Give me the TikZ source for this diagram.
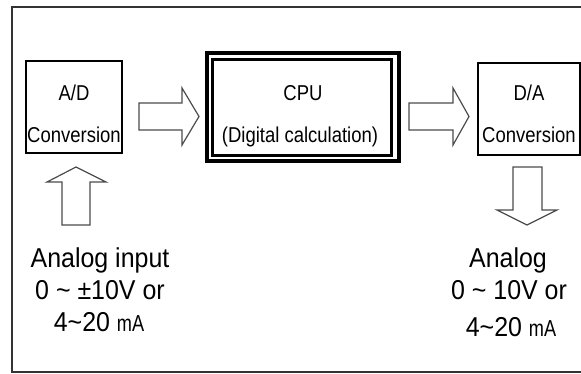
\documentclass[tikz,border=0pt]{standalone}
\usepackage{fontspec}
\setmainfont{Liberation Sans}
\newcommand{\cond}[1]{\scalebox{0.86}[1]{#1}}
\newcommand{\lowcond}[1]{\scalebox{0.96}[1.05]{#1}}
\begin{document}
\begin{tikzpicture}[x=1pt,y=-1pt,
  box/.style={draw=black,line width=1.3pt,inner sep=0pt},
  blockarrow/.style={draw=black!70,line width=1.2pt,fill=white,line join=miter},
  boxtext/.style={font=\fontsize{21.5}{24}\selectfont,inner sep=0pt,anchor=base},
  lowtext/.style={font=\fontsize{26}{28}\selectfont,inner sep=0pt,anchor=base},
  frame/.style={draw=black!80,line width=1.6pt}]
\useasboundingbox (0,0) rectangle (581,373);
% outer frame (open on the right)
\draw[frame] (590,7) -- (12,7) -- (12,372) -- (590,372);
% boxes
\node[box,minimum width=96pt,minimum height=92pt] (ad) at (74,107) {};
\node[box,minimum width=102pt,minimum height=92pt] (da) at (529,109) {};
\node[draw=black,line width=4pt,inner sep=0pt,minimum width=192pt,minimum height=108pt] (cpuo) at (303,107) {};
\node[draw=black,line width=3pt,inner sep=0pt,minimum width=179pt,minimum height=96pt] (cpu) at (302,107.5) {};
% box texts
\node[boxtext] (adt1) at (74,100) {\cond{A/D}};
\node[boxtext] (adt2) at (74,142) {\cond{Conversion}};
\node[boxtext] (cput1) at (303,100) {\cond{CPU}};
\node[boxtext] (cput2) at (300,142) {\cond{(Digital calculation)}};
\node[boxtext] (dat1) at (529,100) {\cond{D/A}};
\node[boxtext] (dat2) at (529,142) {\cond{Conversion}};
% block arrows
\draw[blockarrow] (139,103) -- (182,103) -- (182,88) -- (199,116.5) -- (182,145) -- (182,130) -- (139,130) -- cycle;
\draw[blockarrow] (409,103) -- (453,103) -- (453,88) -- (469,116.5) -- (453,145) -- (453,130) -- (409,130) -- cycle;
\draw[blockarrow] (62,225) -- (62,182) -- (47,182) -- (76,167) -- (106,182) -- (90,182) -- (90,225) -- cycle;
\draw[blockarrow] (513,167) -- (542,167) -- (542,210) -- (557,210) -- (527,225) -- (497,210) -- (513,210) -- cycle;
% lower texts
\node[lowtext] (in1) at (100,267) {\lowcond{Analog input}};
\node[lowtext] (in2) at (100,299) {\lowcond{0 \char"007E{} \char"00B1{}10V or}};
\node[lowtext] (in3) at (99,331) {\lowcond{4\char"007E{}20 \cond{\fontsize{22}{22}\selectfont mA}}};
\node[lowtext] (out1) at (508,267) {\lowcond{Analog}};
\node[lowtext] (out2) at (509,299) {\lowcond{0 \char"007E{} 10V or}};
\node[lowtext] (out3) at (511,336) {\lowcond{4\char"007E{}20 \cond{\fontsize{22}{22}\selectfont mA}}};
\end{tikzpicture}
\end{document}
